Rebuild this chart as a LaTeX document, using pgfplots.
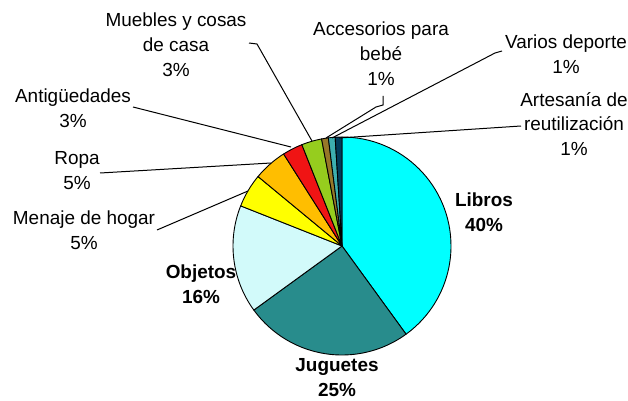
\documentclass[border=0pt]{standalone}
\usepackage{pgfplots}
\pgfplotsset{compat=1.18}
\usepackage{pgfplotstable}
\usepackage{fontspec}
\setmainfont{Liberation Sans}
\definecolor{cLib}{RGB}{0,255,255}
\definecolor{cJug}{RGB}{40,140,140}
\definecolor{cObj}{RGB}{210,250,250}
\definecolor{cMen}{RGB}{255,255,0}
\definecolor{cRopa}{RGB}{255,190,0}
\definecolor{cAnt}{RGB}{240,20,20}
\definecolor{cMueb}{RGB}{150,205,30}
\definecolor{cAcc}{RGB}{150,120,40}
\definecolor{cVar}{RGB}{60,175,175}
\definecolor{cArt}{RGB}{0,60,90}
\pgfplotstableread{
name value colour
Libros 40 cLib
Juguetes 25 cJug
Objetos 16 cObj
Menaje 5 cMen
Ropa 5 cRopa
Antiguedades 3 cAnt
Muebles 3 cMueb
Accesorios 1 cAcc
Varios 1 cVar
Artesania 1 cArt
}\piedata
\begin{document}
\begin{tikzpicture}
\useasboundingbox (0,0) rectangle (628bp,401bp);
\begin{axis}[at={(0,0)}, anchor=south west, scale only axis,
  width=628bp, height=401bp, xmin=0, xmax=628, ymin=0, ymax=401,
  y dir=reverse, hide axis, clip=false]
\pgfplotsextra{%
  \pgfplotstablegetrowsof{\piedata}%
  \pgfmathtruncatemacro{\lastrow}{\pgfplotsretval-1}%
  \xdef\cum{0}%
  \foreach \i in {0,...,\lastrow}{%
    \pgfplotstablegetelem{\i}{value}\of\piedata \let\val\pgfplotsretval
    \pgfplotstablegetelem{\i}{colour}\of\piedata \let\col\pgfplotsretval
    \pgfmathsetmacro{\aS}{90-3.6*\cum}%
    \pgfmathsetmacro{\aE}{90-3.6*(\cum+\val)}%
    \filldraw[fill=\col, draw=black, line width=0.9bp, line join=round]
      (axis cs:342,246) -- ++(\aS:109bp) arc[start angle=\aS, end angle=\aE, radius=109bp] -- cycle;
    \pgfmathsetmacro{\newcum}{\cum+\val}\xdef\cum{\newcum}%
  }%
}
% leader lines
\draw[line width=1bp] (axis cs:249,43) -- (axis cs:257,44) -- (axis cs:312,141);
\draw[line width=1bp] (axis cs:133,107) -- (axis cs:291,147);
\draw[line width=1bp] (axis cs:100,173) -- (axis cs:271,163);
\draw[line width=1bp] (axis cs:157,230) -- (axis cs:248,191);
\draw[line width=1bp] (axis cs:383,96) -- (axis cs:383,105) -- (axis cs:376,107) -- (axis cs:326,138);
\draw[line width=1bp] (axis cs:502,51) -- (axis cs:495,53) -- (axis cs:332,138);
\draw[line width=1bp] (axis cs:521,126) -- (axis cs:339,138);
% labels
\tikzset{lab/.style={align=center, inner sep=0pt, font=\fontsize{19}{25}\selectfont}}
\node[lab] at (axis cs:176,45) {Muebles y cosas\\de casa\\3\%};
\node[lab] at (axis cs:381,54) {Accesorios para\\bebé\\1\%};
\node[lab] at (axis cs:566,54) {Varios deporte\\1\%};
\node[lab] at (axis cs:574,124) {Artesanía de\\reutilización\\1\%};
\node[lab] at (axis cs:73,108) {Antigüedades\\3\%};
\node[lab] at (axis cs:77,171) {Ropa\\5\%};
\node[lab] at (axis cs:84,230) {Menaje de hogar\\5\%};
\node[lab, font=\fontsize{19}{25}\selectfont\bfseries] at (axis cs:201,284) {Objetos\\16\%};
\node[lab, font=\fontsize{19}{25}\selectfont\bfseries] at (axis cs:337,378) {Juguetes\\25\%};
\node[lab, font=\fontsize{19}{25}\selectfont\bfseries] at (axis cs:484,212) {Libros\\40\%};
\end{axis}
\end{tikzpicture}
\end{document}
